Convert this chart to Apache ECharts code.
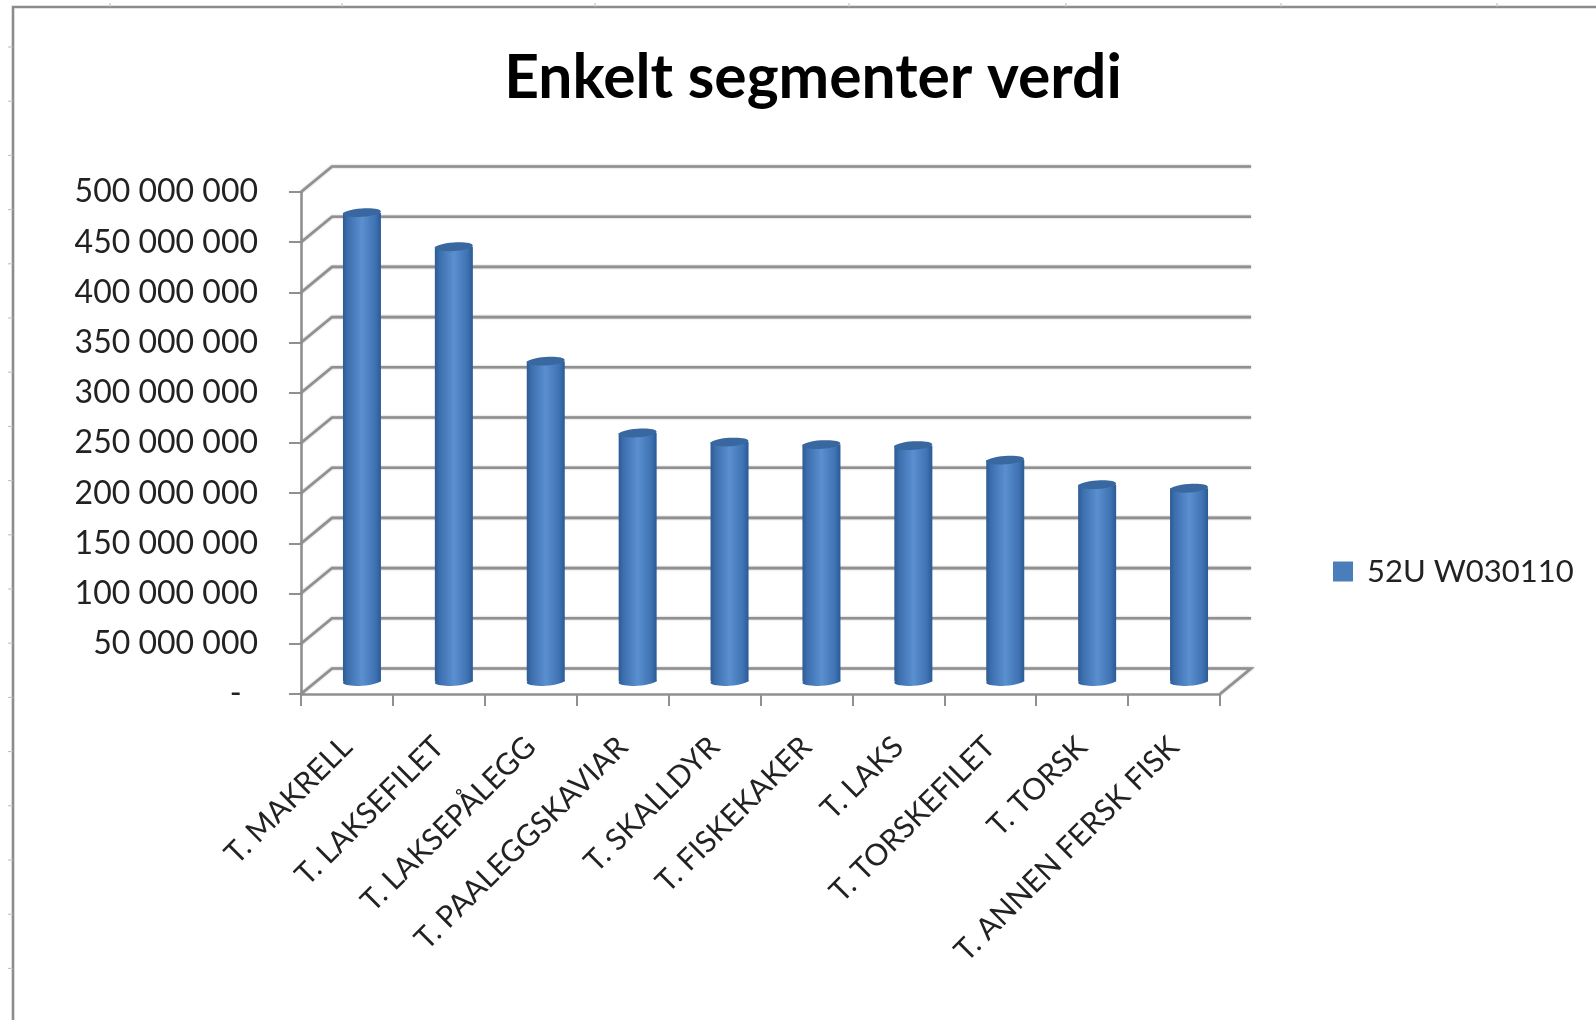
<!DOCTYPE html>
<html>
<head>
<meta charset="utf-8">
<style>
  html, body { margin: 0; padding: 0; background: #fff; }
  #chart { width: 1596px; height: 1020px; }
</style>
</head>
<body>
<div id="chart"></div>
<script src="https://cdn.jsdelivr.net/npm/echarts@6/dist/echarts.min.js"></script>
<script>
var categories = ['T. MAKRELL', 'T. LAKSEFILET', 'T. LAKSEPÅLEGG', 'T. PAALEGGSKAVIAR', 'T. SKALLDYR',
  'T. FISKEKAKER', 'T. LAKS', 'T. TORSKEFILET', 'T. TORSK', 'T. ANNEN FERSK FISK'];
var values = [467000000, 433000000, 319000000, 247500000, 238500000, 236000000, 235000000, 220500000, 196000000, 192500000];
var tickValues = [0, 50000000, 100000000, 150000000, 200000000, 250000000, 300000000, 350000000, 400000000, 450000000, 500000000];
var seriesName = '52U W030110';
var chartTitle = 'Enkelt segmenter verdi';

// the fake 3d depth of the plot
var depthX = 31, depthY = -25.5;
var gridColor = '#909090';
var fontName = 'Lato';

var myChart = echarts.init(document.getElementById('chart'));

function renderWall(params, api) {
  var p = api.coord([0, api.value(0)]);
  var sys = params.coordSys;
  var right = sys.x + sys.width;
  var pts = [[sys.x, p[1]], [sys.x + depthX, p[1] + depthY], [right + depthX, p[1] + depthY]];
  // floor closes on the right side
  if (api.value(0) === 0) pts.push([right, p[1]]);
  return {
    type: 'polyline',
    shape: { points: pts },
    style: { fill: null, stroke: gridColor, lineWidth: 2.6, shadowBlur: 2, shadowColor: 'rgba(120,120,120,0.6)' }
  };
}

function renderCylinder(params, api) {
  var top = api.coord([api.value(0), api.value(1)]);
  var base = api.coord([api.value(0), 0]);
  var cx = top[0] + 15, w = 38, ry = 4.2;
  var yTop = top[1] - 12.5, yBase = base[1] - 12.5;
  var fill = new echarts.graphic.LinearGradient(0, 0, 1, 0, [
    { offset: 0, color: '#2c5a93' },
    { offset: 0.12, color: '#3c6ead' },
    { offset: 0.5, color: '#5a8fd0' },
    { offset: 0.85, color: '#3f73b3' },
    { offset: 1, color: '#2a5a95' }
  ]);
  return {
    type: 'group',
    children: [
      {
        type: 'ellipse',
        shape: { cx: cx, cy: yBase, rx: w / 2, ry: ry },
        rotation: 0.07, originX: cx, originY: yBase,
        style: { fill: fill }
      },
      {
        type: 'rect',
        shape: { x: cx - w / 2, y: yTop, width: w, height: yBase - yTop },
        style: { fill: fill }
      },
      {
        type: 'ellipse',
        shape: { cx: cx, cy: yTop, rx: w / 2, ry: ry },
        rotation: 0.07, originX: cx, originY: yTop,
        style: { fill: '#38689f' }
      }
    ]
  };
}

// frame of the pasted sheet object, with the faint cell marks on it
var frame = [
  { type: 'polyline', shape: { points: [[13, 1020], [13, 7], [1596, 7]] }, style: { fill: null, stroke: '#8c8c8c', lineWidth: 2.6 }, silent: true }
];
[110, 342, 595, 849, 1066, 1281, 1497].forEach(function (x) {
  frame.push({ type: 'line', shape: { x1: x, y1: 3, x2: x, y2: 7 }, style: { stroke: '#bdbdbd', lineWidth: 1 }, silent: true });
});
for (var y = 47; y < 1020; y += 54.2) {
  frame.push({ type: 'line', shape: { x1: 8, y1: y, x2: 13, y2: y }, style: { stroke: '#bdbdbd', lineWidth: 1 }, silent: true });
}

var option = {
  backgroundColor: '#fff',
  animation: false,
  title: {
    text: chartTitle,
    left: 808, top: 43, textAlign: 'center',
    textStyle: { fontFamily: fontName, fontWeight: 'bold', fontSize: 60.5, color: '#000' }
  },
  legend: {
    left: 1328, top: 551,
    itemWidth: 20, itemHeight: 20, itemGap: 0,
    icon: 'rect',
    data: [seriesName],
    textStyle: { fontFamily: fontName, fontSize: 31, color: '#222', padding: [2, 0, 0, 9] }
  },
  grid: { left: 301, right: 376, top: 192, bottom: 326 },
  xAxis: {
    type: 'category',
    data: categories,
    axisLine: { lineStyle: { color: gridColor, width: 2.6 } },
    axisTick: { show: true, length: 12, lineStyle: { color: gridColor, width: 2 } },
    axisLabel: {
      rotate: 45, margin: 48, interval: 0,
      fontFamily: fontName, fontSize: 30, color: '#222'
    }
  },
  yAxis: {
    type: 'value',
    min: 0, max: 500000000, interval: 50000000,
    splitLine: { show: false },
    axisLine: { show: true, lineStyle: { color: gridColor, width: 2.6 } },
    axisTick: { show: true, length: 12, lineStyle: { color: gridColor, width: 2 } },
    axisLabel: {
      margin: 43,
      padding: [4, 0, 0, 0],
      fontFamily: fontName, fontSize: 32, color: '#222',
      formatter: function (v) {
        if (v === 0) return '-  ';
        return String(v).replace(/\B(?=(\d{3})+$)/g, ' ');
      }
    }
  },
  series: [
    {
      name: 'wall',
      type: 'custom',
      silent: true,
      z: 1,
      clip: false,
      encode: { y: 0 },
      renderItem: renderWall,
      data: tickValues.map(function (v) { return [v]; })
    },
    {
      name: seriesName,
      type: 'custom',
      z: 2,
      clip: false,
      itemStyle: { color: '#4a7ebb' },
      encode: { x: 0, y: 1 },
      renderItem: renderCylinder,
      data: values.map(function (v, i) { return [i, v]; })
    }
  ],
  graphic: frame
};

myChart.setOption(option);
</script>
</body>
</html>
